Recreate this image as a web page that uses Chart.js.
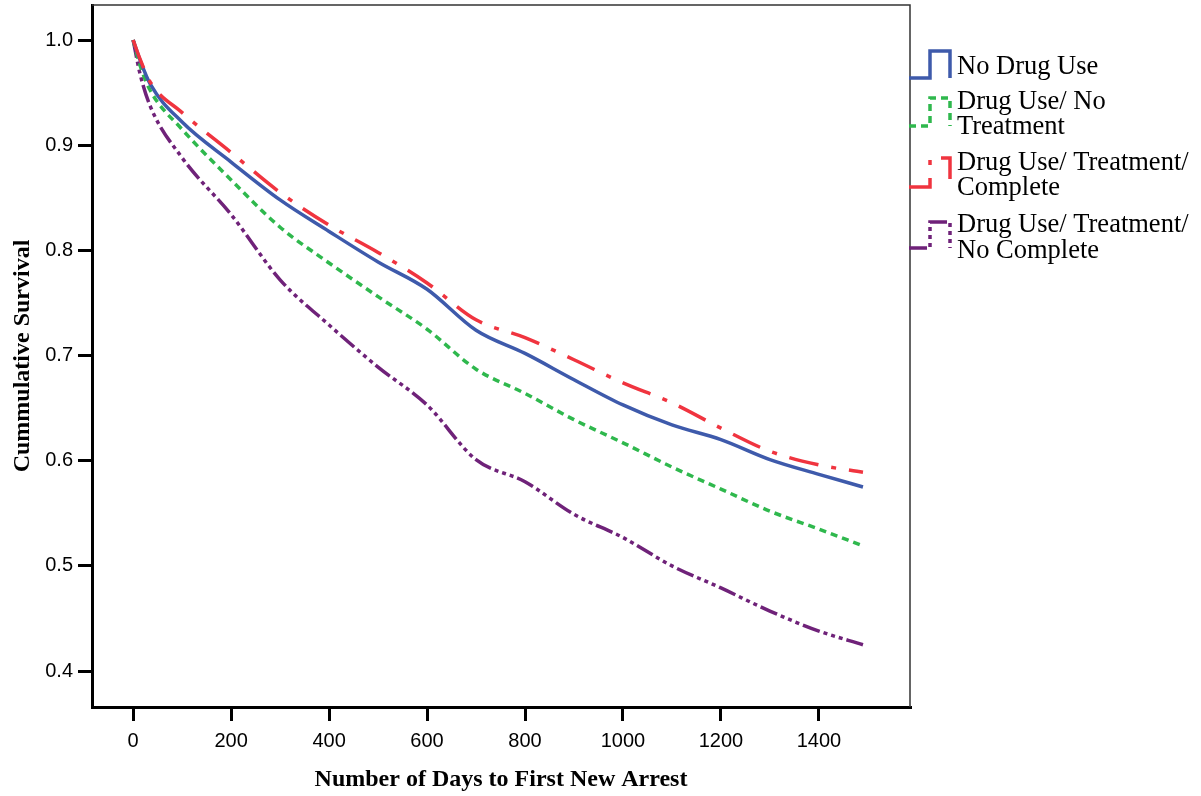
<!DOCTYPE html>
<html>
<head>
<meta charset="utf-8">
<script src="https://cdn.jsdelivr.net/npm/chart.js@4.4.1/dist/chart.umd.min.js"></script>
<style>
  html, body { margin: 0; padding: 0; background: #fff; }
  #wrap { width: 1201px; height: 796px; }
</style>
</head>
<body>
<div id="wrap"><canvas id="survChart" width="1201" height="796"></canvas></div>
<script>
// days since release (x) and cumulative survival
const days = [0, 14, 35, 100, 200, 300, 400, 500, 600, 700, 800, 900, 1000, 1100, 1200, 1300, 1400, 1490];
const noDrugUse      = [1.0, 0.981, 0.958, 0.922, 0.884, 0.848, 0.818, 0.789, 0.763, 0.724, 0.702, 0.677, 0.653, 0.634, 0.620, 0.601, 0.587, 0.575];
const drugNoTreat    = [1.0, 0.976, 0.952, 0.915, 0.867, 0.822, 0.788, 0.756, 0.725, 0.687, 0.664, 0.639, 0.617, 0.594, 0.573, 0.552, 0.535, 0.519];
const drugTreatComp  = [1.0, 0.982, 0.960, 0.931, 0.893, 0.855, 0.824, 0.798, 0.769, 0.734, 0.717, 0.696, 0.674, 0.655, 0.631, 0.609, 0.596, 0.589];
const drugTreatNoComp= [1.0, 0.968, 0.937, 0.888, 0.834, 0.772, 0.729, 0.689, 0.653, 0.601, 0.580, 0.549, 0.527, 0.500, 0.479, 0.457, 0.438, 0.425];

const seriesLabels = ["No Drug Use", "Drug Use/ No\nTreatment", "Drug Use/ Treatment/\nComplete", "Drug Use/ Treatment/\nNo Complete"];
const xTicks = [0, 200, 400, 600, 800, 1000, 1200, 1400];
const yTicks = [0.4, 0.5, 0.6, 0.7, 0.8, 0.9, 1.0];

const colors = ['#3e5aab', '#2fb84d', '#f0343f', '#6f2279'];
const dashes = [[], [7, 5], [30, 13, 5, 13], [18, 4, 4, 4, 4, 4, 4, 4]];

const allSeries = [noDrugUse, drugNoTreat, drugTreatComp, drugTreatNoComp];
const datasets = allSeries.map((vals, i) => ({
    label: seriesLabels[i],
    data: days.map((d, j) => ({ x: d, y: vals[j] })),
    borderColor: colors[i],
    borderWidth: 3.5,
    borderDash: dashes[i],
    pointRadius: 0,
    fill: false,
    cubicInterpolationMode: 'monotone',
    order: i === 2 ? 0 : 1
}));

// legend entries: top of step symbol, bottom of step symbol, text line centres
const legendRows = [
    { top: 51, low: 78, lines: [67] },
    { top: 98, low: 126, lines: [102, 127] },
    { top: 158, low: 187, lines: [163, 188] },
    { top: 222, low: 248, lines: [225, 251] }
];

const framePlugin = {
    id: 'frame',
    afterDraw(chart) {
        const ctx = chart.ctx;
        const a = chart.chartArea;
        ctx.save();
        // thin top and right frame
        ctx.strokeStyle = '#333';
        ctx.lineWidth = 1.5;
        ctx.beginPath();
        ctx.moveTo(a.left, a.top);
        ctx.lineTo(a.right, a.top);
        ctx.lineTo(a.right, a.bottom);
        ctx.stroke();

        // legend with step shaped symbols
        ctx.font = '26.5px "Liberation Serif", "Times New Roman", serif';
        ctx.textBaseline = 'middle';
        ctx.fillStyle = '#000';
        legendRows.forEach((row, i) => {
            ctx.strokeStyle = colors[i];
            ctx.lineWidth = 3.5;
            ctx.setLineDash(dashes[i]);
            ctx.beginPath();
            ctx.moveTo(909, row.low);
            ctx.lineTo(930, row.low);
            ctx.lineTo(930, row.top);
            ctx.lineTo(950, row.top);
            ctx.lineTo(950, row.low);
            ctx.stroke();
            ctx.setLineDash([]);
            seriesLabels[i].split('\n').forEach((txt, k) => {
                ctx.fillText(txt, 957, row.lines[k]);
            });
        });
        ctx.restore();
    }
};

new Chart(document.getElementById('survChart'), {
    type: 'line',
    data: { datasets: datasets },
    options: {
        responsive: false,
        animation: false,
        layout: { padding: { top: 5, right: 291, bottom: 0, left: 0 } },
        plugins: {
            legend: { display: false },
            tooltip: { enabled: false }
        },
        scales: {
            x: {
                type: 'linear',
                min: -84,
                max: 1586,
                afterFit: (s) => { s.height = 89; s.paddingLeft = 0; s.paddingRight = 0; },
                afterBuildTicks: (s) => { s.ticks = xTicks.map(v => ({ value: v })); },
                border: { color: '#000', width: 3 },
                grid: { drawOnChartArea: false, color: '#000', lineWidth: 3, tickLength: 14 },
                ticks: {
                    color: '#000',
                    padding: 8,
                    maxRotation: 0,
                    callback: (v) => String(v),
                    font: { family: '"Liberation Sans", Arial, sans-serif', size: 20 }
                },
                title: {
                    display: true,
                    text: 'Number of Days to First New Arrest',
                    color: '#000',
                    padding: { top: 0, bottom: 2 },
                    font: { family: '"Liberation Serif", "Times New Roman", serif', size: 24, weight: 'bold' }
                }
            },
            y: {
                type: 'linear',
                min: 0.3658,
                max: 1.0333,
                afterFit: (s) => { s.width = 92; s.paddingTop = 0; s.paddingBottom = 0; },
                afterBuildTicks: (s) => { s.ticks = yTicks.map(v => ({ value: v })); },
                border: { color: '#000', width: 3 },
                grid: { drawOnChartArea: false, color: '#000', lineWidth: 3, tickLength: 14 },
                ticks: {
                    color: '#000',
                    padding: 5,
                    callback: (v) => v.toFixed(1),
                    font: { family: '"Liberation Sans", Arial, sans-serif', size: 20 }
                },
                title: {
                    display: true,
                    text: 'Cummulative Survival',
                    color: '#000',
                    padding: { top: 8, bottom: 0 },
                    font: { family: '"Liberation Serif", "Times New Roman", serif', size: 24, weight: 'bold' }
                }
            }
        }
    },
    plugins: [framePlugin]
});
</script>
</body>
</html>
